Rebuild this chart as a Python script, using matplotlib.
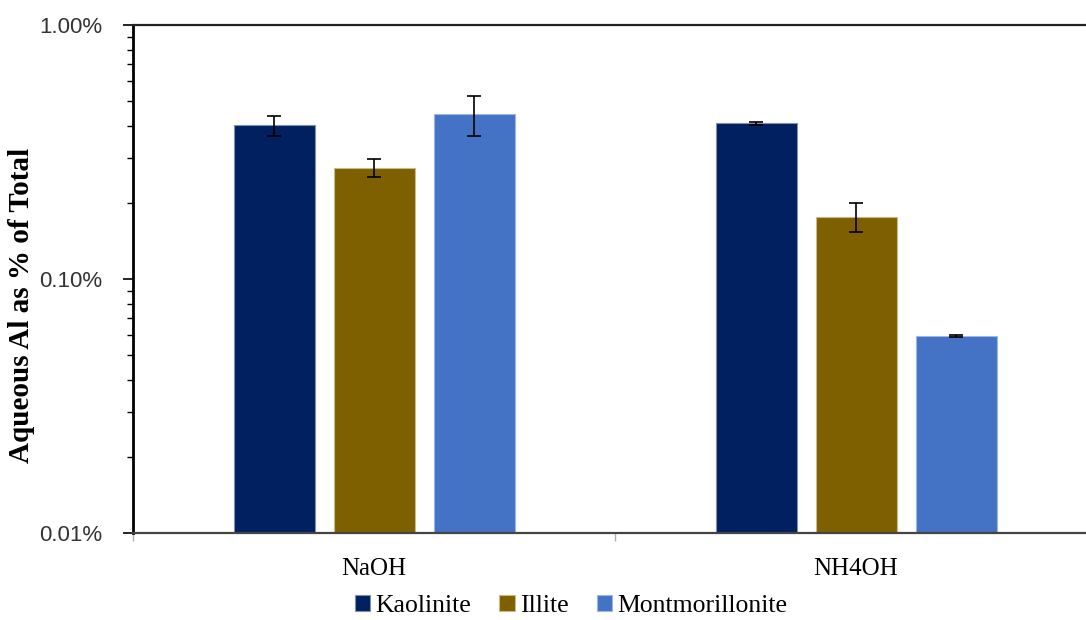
"""Aqueous aluminium released from clay minerals, by extractant."""

from matplotlib import pyplot as plt
from matplotlib.ticker import FixedLocator, NullFormatter, FuncFormatter
import numpy as np

treatments = ["NaOH", "NH4OH"]
minerals = ["Kaolinite", "Illite", "Montmorillonite"]

# Al in solution as % of total Al, with error bar half-widths
kaolinite = [0.403, 0.410]
illite = [0.2735, 0.176]
montmorillonite = [0.445, 0.0596]
kaolinite_err = [0.037, 0.006]
illite_err = [0.022, 0.0235]
montmorillonite_err = [0.080, 0.0005]

colors = ["#002060", "#7F6000", "#4472C4"]
edge_colors = ["#7f8fb0", "#c8b98f", "#9db6e3"]

serif = ["Liberation Serif", "DejaVu Serif"]
sans = ["Liberation Sans", "DejaVu Sans"]

fig = plt.figure(figsize=(10.86, 6.2), dpi=100)
ax = fig.add_axes([133 / 1086, 87 / 620, 964 / 1086, 508 / 620])

x = np.arange(len(treatments))
width = 81 / 482
step = 100 / 482
series = [kaolinite, illite, montmorillonite]
errors = [kaolinite_err, illite_err, montmorillonite_err]

for i, (name, vals, errs) in enumerate(zip(minerals, series, errors)):
    ax.bar(x + (i - 1) * step, vals, width, color=colors[i],
           edgecolor=edge_colors[i], linewidth=0.8, label=name, zorder=2)
    ax.errorbar(x + (i - 1) * step, vals, yerr=errs, fmt="none",
                ecolor="black", elinewidth=1.2, capsize=5, capthick=1.2,
                zorder=3)

ax.set_yscale("log")
ax.set_ylim(0.01, 1.0)
ax.set_xlim(-0.5, 1.5)
ax.yaxis.set_major_locator(FixedLocator([0.01, 0.1, 1.0]))
ax.yaxis.set_major_formatter(FuncFormatter(lambda v, p: "{:.2f}%".format(v)))
ax.yaxis.set_minor_locator(FixedLocator(
    [m * d for d in (0.01, 0.1) for m in range(2, 10)]))
ax.yaxis.set_minor_formatter(NullFormatter())
ax.tick_params(axis="y", which="major", length=7, width=1.2, pad=15,
               labelsize=16, color="black")
ax.tick_params(axis="y", which="minor", length=4, width=1.0, color="black")
for lab in ax.get_yticklabels():
    lab.set_family(sans)
    lab.set_color("#333333")

# category labels centred, boundary ticks between groups
ax.set_xticks(x)
ax.set_xticklabels(treatments, family=serif, fontsize=18)
ax.tick_params(axis="x", which="major", length=0, pad=18)
ax.xaxis.set_minor_locator(FixedLocator([-0.5, 0.5, 1.5]))
ax.tick_params(axis="x", which="minor", length=6, width=1.0, color="#b0b0b0")

ax.set_ylabel("Aqueous Al as % of Total", family=serif, fontweight="bold",
              fontsize=21, va="center")
ax.yaxis.set_label_coords(-111 / 964, 228 / 508)

ax.spines["left"].set_linewidth(2.0)
ax.spines["left"].set_color("black")
ax.spines["bottom"].set_linewidth(1.6)
ax.spines["bottom"].set_color("#444444")
ax.spines["top"].set_linewidth(1.6)
ax.spines["top"].set_color("#222222")
ax.spines["right"].set_visible(False)

fig.legend(loc="center", bbox_to_anchor=(571 / 1086, 1 - 606 / 620), ncol=3,
           frameon=False, prop={"family": serif, "size": 18.5},
           handlelength=0.6, handleheight=0.6, handletextpad=0.2,
           columnspacing=1.1, borderpad=0.1)

fig.savefig("out.png", dpi=100)
